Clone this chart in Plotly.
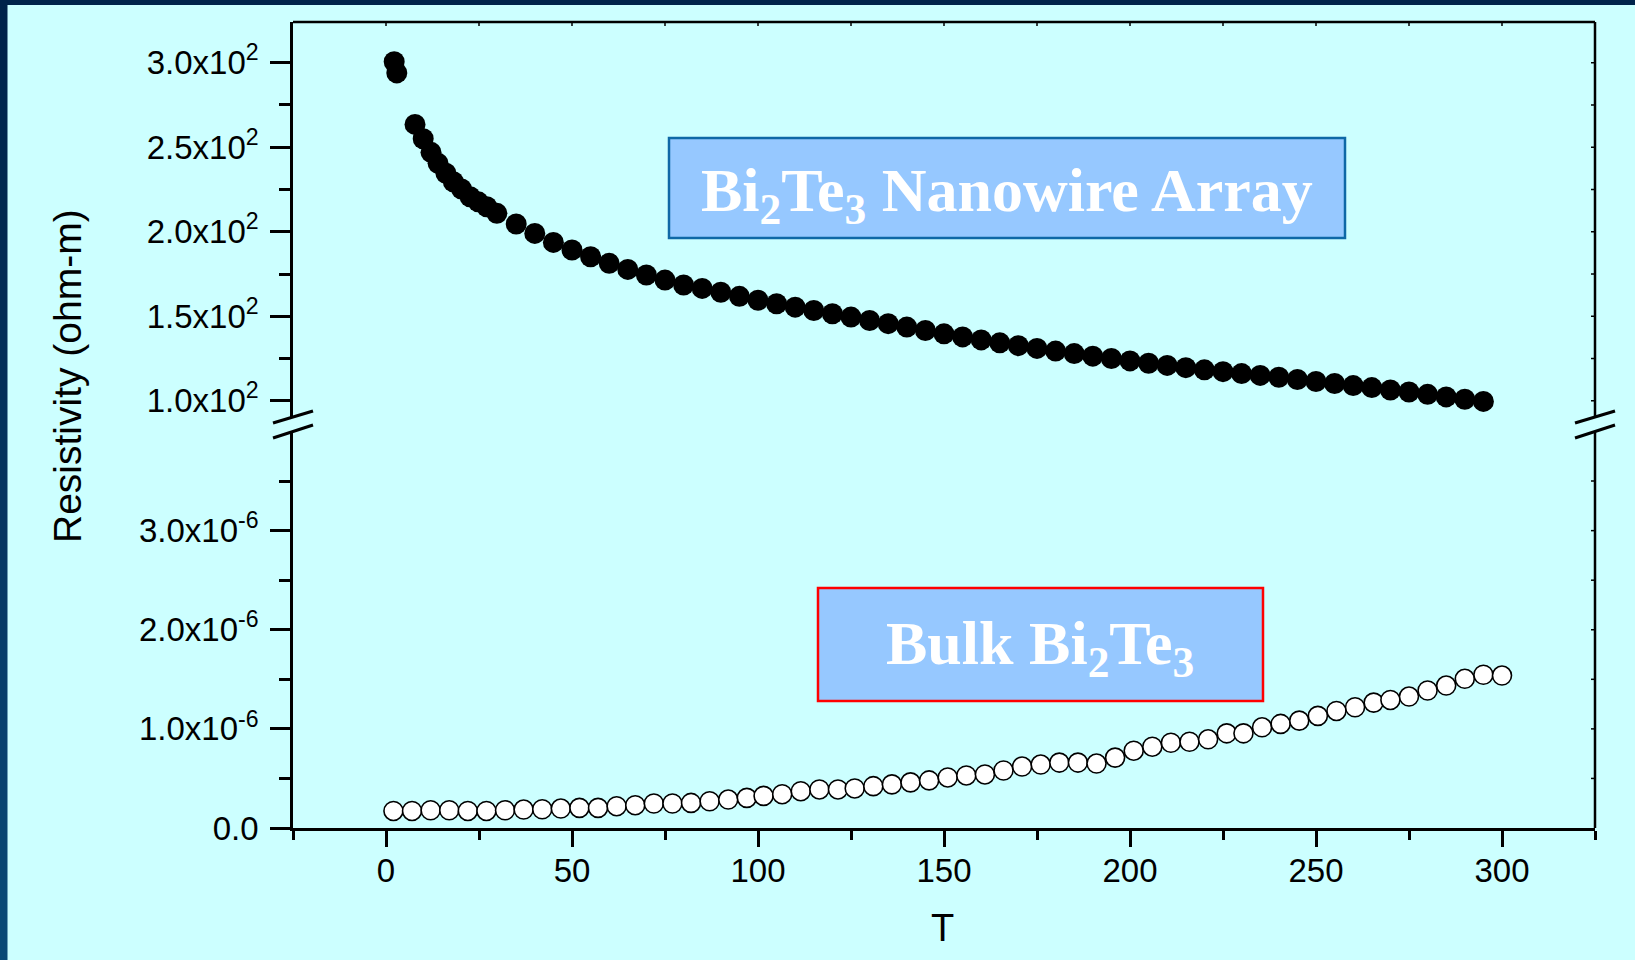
import plotly.graph_objects as go

# ---------------- data ----------------
# Bi2Te3 nanowire array: temperature (K) and resistivity (ohm-m)
nano_T = [2.2, 2.9, 7.8, 10.0, 12.1, 14.0, 16.1, 18.1, 20.3, 22.6, 24.8, 27.1, 29.8,
          35, 40, 45, 50, 55, 60, 65, 70, 75, 80, 85, 90, 95, 100, 105, 110, 115,
          120, 125, 130, 135, 140, 145, 150, 155, 160, 165, 170, 175, 180, 185,
          190, 195, 200, 205, 210, 215, 220, 225, 230, 235, 240, 245, 250, 255,
          260, 265, 270, 275, 280, 285, 290, 295]
nano_R = [300.6, 294.0, 263.5, 255.0, 247.0, 240.5, 234.6, 229.6, 225.3, 220.7, 217.7, 214.8, 210.9,
          204.6, 199.0, 193.7, 189.2, 185.2, 181.3, 177.7, 174.4, 171.4, 168.5, 166.5, 164.2,
          161.8, 159.5, 157.4, 155.4, 153.4, 151.5, 149.5, 147.5, 145.6, 143.6, 141.6, 139.6,
          137.8, 136.0, 134.3, 132.6, 131.0, 129.4, 127.9, 126.4, 125.0, 123.6, 122.2, 120.9,
          119.6, 118.3, 117.2, 116.1, 115.0, 113.9, 112.6, 111.4, 110.2, 109.0, 107.8, 106.4,
          105.2, 103.8, 102.3, 100.9, 99.6]

# Bulk Bi2Te3: temperature (K) and resistivity (units of 1e-6 ohm-m)
bulk_T = [2, 7, 12, 17, 22, 27, 32, 37, 42, 47, 52, 57, 62, 67, 72, 77, 82, 87, 92, 97,
          101.5, 106.5, 111.5, 116.5, 121.5, 126, 131, 136, 141, 146, 151, 156, 161, 166,
          171, 176, 181, 186, 191, 196, 201, 206, 211, 216, 221, 226, 230.5, 235.5, 240.5,
          245.5, 250.5, 255.5, 260.5, 265.5, 270, 275, 280, 285, 290, 295, 300]
bulk_R_e6 = [0.172, 0.172, 0.179, 0.179, 0.172, 0.172, 0.179, 0.186, 0.189, 0.196, 0.203,
             0.203, 0.220, 0.230, 0.247, 0.247, 0.253, 0.270, 0.287, 0.304, 0.324, 0.341,
             0.371, 0.389, 0.389, 0.399, 0.422, 0.44, 0.46, 0.48, 0.51, 0.53, 0.54, 0.58,
             0.62, 0.64, 0.66, 0.66, 0.65, 0.71, 0.78, 0.82, 0.86, 0.87, 0.895, 0.955, 0.955,
             1.016, 1.050, 1.083, 1.131, 1.181, 1.218, 1.265, 1.292, 1.326, 1.387, 1.437,
             1.505, 1.546, 1.538]
bulk_R = [v * 1e-6 for v in bulk_R_e6]

x_major = [0, 50, 100, 150, 200, 250, 300]
x_minor = [-25, 25, 75, 125, 175, 225, 275, 325]
low_major = [0, 1e-6, 2e-6, 3e-6]
low_labels = ["0.0", "1.0x10<sup>-6</sup>", "2.0x10<sup>-6</sup>", "3.0x10<sup>-6</sup>"]
low_minor = [0.5e-6, 1.5e-6, 2.5e-6, 3.5e-6]
up_major = [100, 150, 200, 250, 300]
up_labels = ["1.0x10<sup>2</sup>", "1.5x10<sup>2</sup>", "2.0x10<sup>2</sup>",
             "2.5x10<sup>2</sup>", "3.0x10<sup>2</sup>"]
up_minor = [125, 175, 225, 275]

# ---------------- geometry ----------------
W, H = 1635, 960
ML, MR, MT, MB = 293, 40, 22, 132
PW, PH = W - ML - MR, H - MT - MB


def fx(p):
    return (p - ML) / PW


def fy(p):
    return (H - MB - p) / PH


X_RANGE = [-25, 325]
LOW_RANGE = [0, 4.0e-6]
UP_RANGE = [90.4, 324.1]
low_dom = [0, fy(431.5)]
up_dom = [fy(417), 1]

BG = "#CCFFFF"
TICKFONT = dict(family="Liberation Sans, Arial", size=33, color="black")

fig = go.Figure()
fig.add_trace(go.Scatter(
    x=nano_T, y=nano_R, mode="markers", xaxis="x", yaxis="y2",
    marker=dict(symbol="circle", size=21, color="black", line=dict(width=0)),
    showlegend=False, name="Bi2Te3 nanowire array"))
fig.add_trace(go.Scatter(
    x=bulk_T, y=bulk_R, mode="markers", xaxis="x", yaxis="y",
    marker=dict(symbol="circle", size=19, color="white", line=dict(width=1.6, color="black")),
    showlegend=False, name="Bulk Bi2Te3"))

axis_common = dict(showgrid=False, zeroline=False, showline=True, linecolor="black",
                   linewidth=2.5, tickcolor="black", tickwidth=2.5)

fig.update_layout(
    width=W, height=H, autosize=False,
    margin=dict(l=ML, r=MR, t=MT, b=MB, pad=0),
    paper_bgcolor=BG, plot_bgcolor=BG,
    xaxis=dict(domain=[0, 1], anchor="y", range=X_RANGE, tickmode="array",
               tickvals=x_major, ticktext=[str(v) for v in x_major], ticks="outside",
               ticklen=16, tickfont=TICKFONT, ticklabelstandoff=-4,
               minor=dict(tickmode="array", tickvals=x_minor, ticks="outside",
                          ticklen=9, tickwidth=2.5, tickcolor="black"),
               **axis_common),
    yaxis=dict(domain=low_dom, anchor="x", range=LOW_RANGE, tickmode="array",
               tickvals=low_major, ticktext=low_labels, ticks="outside", ticklen=20,
               tickfont=TICKFONT, ticklabelstandoff=5,
               minor=dict(tickmode="array", tickvals=low_minor, ticks="outside",
                          ticklen=11, tickwidth=2.5, tickcolor="black"),
               **axis_common),
    yaxis2=dict(domain=up_dom, anchor="x", range=UP_RANGE, tickmode="array",
                tickvals=up_major, ticktext=up_labels, ticks="outside", ticklen=20,
                tickfont=TICKFONT, ticklabelstandoff=5,
                minor=dict(tickmode="array", tickvals=up_minor, ticks="outside",
                           ticklen=11, tickwidth=2.5, tickcolor="black"),
                **axis_common),
)

shapes = []
# dark slide edge along top and left
shapes.append(dict(type="rect", xref="paper", yref="paper", x0=fx(0), x1=fx(W),
                   y0=fy(5), y1=fy(0), fillcolor="#00234A", line=dict(width=0), layer="below"))
edge_cols = ["#00234A", "#00264D", "#012950", "#022C54", "#032F58", "#04335C",
             "#053661", "#063A65", "#073E6A", "#08416E", "#094572", "#0A4976"]
n = len(edge_cols)
for i, c in enumerate(edge_cols):
    shapes.append(dict(type="rect", xref="paper", yref="paper", x0=fx(0), x1=fx(7.5),
                       y0=fy(H * (i + 1) / n), y1=fy(H * i / n), fillcolor=c,
                       line=dict(width=0), layer="below"))

# frame: top edge and right edge (broken like the left axis)
frame = dict(color="black", width=2.5)
shapes.append(dict(type="line", xref="paper", yref="paper", x0=0, x1=1, y0=1, y1=1, line=frame))
for y0, y1 in (low_dom, up_dom):
    shapes.append(dict(type="line", xref="paper", yref="paper", x0=1, x1=1, y0=y0, y1=y1,
                       line=frame))

# short inward ticks along the top and right edges
TICK_IN = 4
for v in x_major + x_minor[1:-1]:
    shapes.append(dict(type="line", xref="x", yref="paper", x0=v, x1=v,
                       y0=1, y1=1 - TICK_IN / PH, line=dict(color="black", width=1.5)))
for ref, vals in (("y", low_major[1:] + low_minor), ("y2", up_major + up_minor)):
    for v in vals:
        shapes.append(dict(type="line", xref="paper", yref=ref, x0=1 - TICK_IN / PW, x1=1,
                           y0=v, y1=v, line=dict(color="black", width=1.5)))

# axis-break marks on both sides
for xc in (ML, W - MR):
    for (ya, yb) in ((423, 411), (438, 425)):
        shapes.append(dict(type="line", xref="paper", yref="paper",
                           x0=fx(xc - 20), x1=fx(xc + 20), y0=fy(ya), y1=fy(yb),
                           line=dict(color="black", width=3)))

# label boxes
shapes.append(dict(type="rect", xref="paper", yref="paper", x0=fx(669), x1=fx(1345),
                   y0=fy(238), y1=fy(138), fillcolor="#96C8FF",
                   line=dict(color="#0E68A6", width=2.5)))
shapes.append(dict(type="rect", xref="paper", yref="paper", x0=fx(818), x1=fx(1263),
                   y0=fy(701), y1=fy(588), fillcolor="#96C8FF",
                   line=dict(color="#FF0000", width=2.5)))
fig.update_layout(shapes=shapes)

LABELFONT = dict(family="Liberation Serif, Times New Roman", size=62, color="white", weight="bold")
annotations = [
    dict(text="Bi<sub>2</sub>Te<sub>3</sub> Nanowire Array", xref="paper", yref="paper",
         x=fx(1007), y=fy(194), xanchor="center", yanchor="middle", showarrow=False,
         font=LABELFONT),
    dict(text="Bulk Bi<sub>2</sub>Te<sub>3</sub>", xref="paper", yref="paper",
         x=fx(1040), y=fy(647), xanchor="center", yanchor="middle", showarrow=False,
         font=LABELFONT),
    dict(text="Resistivity (ohm-m)", xref="paper", yref="paper", x=fx(67), y=fy(376),
         xanchor="center", yanchor="middle", textangle=-90, showarrow=False,
         font=dict(family="Liberation Sans, Arial", size=39, color="black")),
    dict(text="T", xref="paper", yref="paper", x=fx(942), y=fy(928),
         xanchor="center", yanchor="middle", showarrow=False,
         font=dict(family="Liberation Sans, Arial", size=38, color="black")),
]
fig.update_layout(annotations=annotations)

fig.write_html("out.html")
